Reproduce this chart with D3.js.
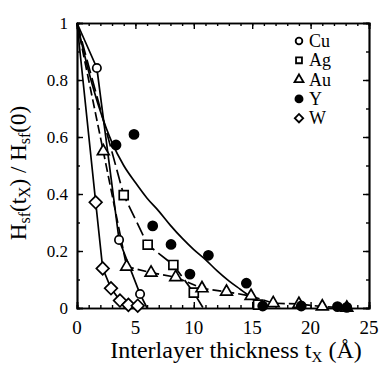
<!DOCTYPE html>
<html>
<head>
<meta charset="utf-8">
<script src="https://cdn.jsdelivr.net/npm/d3@7"></script>
<style>
  body { margin: 0; background: #fff; }
  svg text { font-family: "Liberation Serif", "DejaVu Serif", serif; fill: #000; }
</style>
</head>
<body>
<div id="chart"></div>
<script>
// measured points (thickness in Angstrom, normalised field)
var cuT = [1.7, 3.6, 5.4];
var cuH = [0.842, 0.239, 0.049];
var agT = [4.0, 6.05, 8.25, 10.0, 15.5];
var agH = [0.396, 0.222, 0.151, 0.054, 0.012];
var auT = [2.25, 4.25, 6.34, 8.45, 10.7, 12.8, 14.9, 16.8, 19.0, 21.0, 23.1];
var auH = [0.55, 0.145, 0.124, 0.108, 0.069, 0.057, 0.042, 0.017, 0.014, 0.005, 0.001];
var yT = [3.34, 4.88, 6.48, 8.05, 9.67, 11.25, 14.5, 15.9, 19.2, 22.3, 23.1];
var yH = [0.572, 0.609, 0.288, 0.223, 0.119, 0.185, 0.087, 0.007, 0.007, 0.005, 0.002];
var wT = [1.6, 2.2, 2.91, 3.68, 4.4, 5.2];
var wH = [0.371, 0.139, 0.069, 0.026, 0.011, 0.008];

// guide lines
var cuLineT = [0, 1.7, 3.6, 5.4, 6.0];
var cuLineH = [1, 0.842, 0.239, 0.049, 0];
var agLineT = [0, 4.0, 6.05, 8.25, 10.0, 10.8];
var agLineH = [1, 0.396, 0.222, 0.151, 0.054, 0];
var auLineT = [0, 2.25, 4.25, 6.34, 8.45, 10.7, 12.8, 14.9, 16.8, 19.0, 21.0, 23.1];
var auLineH = [1, 0.55, 0.145, 0.124, 0.108, 0.069, 0.057, 0.042, 0.017, 0.014, 0.005, 0.001];
var wLineT = [0, 1.6, 2.2, 2.91, 3.68, 4.4, 5.2];
var wLineH = [1, 0.371, 0.139, 0.069, 0.026, 0.011, 0.008];
var yFitT = [0, 1, 2, 3, 4, 5, 6, 7, 8, 9, 10, 11, 12, 13, 14, 14.5, 15.5];
var yFitH = [1, 0.83, 0.69, 0.58, 0.5, 0.44, 0.385, 0.34, 0.29, 0.245, 0.205, 0.17, 0.13, 0.095, 0.065, 0.05, 0.02];

var legendNames = ['Cu', 'Ag', 'Au', 'Y', 'W'];
var xTicks = [0, 5, 10, 15, 20, 25];
var yTicks = [0, 0.2, 0.4, 0.6, 0.8, 1];
var yTickLabels = ['0', '0.2', '0.4', '0.6', '0.8', '1'];

var width = 380, height = 365;
var plotLeft = 77, plotRight = 369, plotTop = 23, plotBottom = 308;

var svg = d3.select('#chart').append('svg')
  .attr('width', width)
  .attr('height', height);

var x = d3.scaleLinear().domain([0, 25]).range([plotLeft, plotRight]);
var y = d3.scaleLinear().domain([0, 1]).range([plotBottom, plotTop]);

function zip(a, b) { return a.map(function(v, i) { return [v, b[i]]; }); }

var line = d3.line().x(d => x(d[0])).y(d => y(d[1]));
var curve = d3.line().x(d => x(d[0])).y(d => y(d[1])).curve(d3.curveMonotoneX);

var g = svg.append('g');

// lines
g.append('path').datum(zip(wLineT, wLineH)).attr('d', line)
  .attr('fill', 'none').attr('stroke', '#000').attr('stroke-width', 1.7);
g.append('path').datum(zip(cuLineT, cuLineH)).attr('d', line)
  .attr('fill', 'none').attr('stroke', '#000').attr('stroke-width', 1.7);
g.append('path').datum(zip(auLineT, auLineH)).attr('d', line)
  .attr('fill', 'none').attr('stroke', '#000').attr('stroke-width', 1.7)
  .attr('stroke-dasharray', '9,4');
g.append('path').datum(zip(agLineT, agLineH)).attr('d', line)
  .attr('fill', 'none').attr('stroke', '#000').attr('stroke-width', 1.7)
  .attr('stroke-dasharray', '14,5');
g.append('path').datum(zip(yFitT, yFitH)).attr('d', curve)
  .attr('fill', 'none').attr('stroke', '#000').attr('stroke-width', 1.7);

// axes, ticks pointing inward
function addAxis(axis, transform) {
  svg.append('g').attr('transform', transform).call(axis)
    .call(a => a.select('.domain').attr('stroke-width', 1.7))
    .call(a => a.selectAll('.tick line').attr('stroke-width', 1.4));
}
var xMinor = d3.range(0, 26, 1);
var yMinor = d3.range(0, 1.01, 0.1);
addAxis(d3.axisBottom(x).tickValues(xMinor).tickSize(-3).tickFormat(''), 'translate(0,' + plotBottom + ')');
addAxis(d3.axisBottom(x).tickValues(xTicks).tickSize(-6).tickFormat(''), 'translate(0,' + plotBottom + ')');
addAxis(d3.axisTop(x).tickValues(xMinor).tickSize(-3).tickFormat(''), 'translate(0,' + plotTop + ')');
addAxis(d3.axisTop(x).tickValues(xTicks).tickSize(-6).tickFormat(''), 'translate(0,' + plotTop + ')');
addAxis(d3.axisLeft(y).tickValues(yMinor).tickSize(-3).tickFormat(''), 'translate(' + plotLeft + ',0)');
addAxis(d3.axisLeft(y).tickValues(yTicks).tickSize(-6).tickFormat(''), 'translate(' + plotLeft + ',0)');
addAxis(d3.axisRight(y).tickValues(yMinor).tickSize(-3).tickFormat(''), 'translate(' + plotRight + ',0)');
addAxis(d3.axisRight(y).tickValues(yTicks).tickSize(-6).tickFormat(''), 'translate(' + plotRight + ',0)');

// tick labels
svg.append('g').selectAll('text').data(xTicks).join('text')
  .attr('x', d => x(d)).attr('y', plotBottom + 26)
  .attr('text-anchor', 'middle').style('font-size', '19px')
  .text(d => d);
svg.append('g').selectAll('text').data(yTicks).join('text')
  .attr('x', plotLeft - 9).attr('y', d => y(d) + 6)
  .attr('text-anchor', 'end').style('font-size', '17px')
  .text((d, i) => yTickLabels[i]);

// markers
function symbolFor(s, size) {
  var types = { circle: d3.symbolCircle, square: d3.symbolSquare, triangle: d3.symbolTriangle,
                diamond: d3.symbolSquare, dot: d3.symbolCircle };
  return d3.symbol().type(types[s]).size(size)();
}
var markerSize = { circle: 55, square: 80, triangle: 60, diamond: 80, dot: 65 };
function markers(tv, hv, s, filled) {
  svg.append('g').selectAll('path').data(zip(tv, hv)).join('path')
    .attr('d', symbolFor(s, markerSize[s]))
    .attr('transform', d => 'translate(' + x(d[0]) + ',' + y(d[1]) + ')' + (s === 'diamond' ? ' rotate(45)' : ''))
    .attr('fill', filled ? '#000' : '#fff')
    .attr('stroke', '#000').attr('stroke-width', 1.7);
}
markers(cuT, cuH, 'circle', false);
markers(agT, agH, 'square', false);
markers(auT, auH, 'triangle', false);
markers(yT, yH, 'dot', true);
markers(wT, wH, 'diamond', false);

// legend
var legendSym = ['circle', 'square', 'triangle', 'dot', 'diamond'];
var leg = svg.append('g');
legendNames.forEach(function(name, i) {
  var cy = 41 + i * 19.3;
  leg.append('path').attr('d', symbolFor(legendSym[i], i === 3 ? 40 : 35))
    .attr('transform', 'translate(299,' + cy + ')' + (i === 4 ? ' rotate(45)' : ''))
    .attr('fill', i === 3 ? '#000' : '#fff')
    .attr('stroke', '#000').attr('stroke-width', 1.8);
  leg.append('text').attr('x', 309).attr('y', cy + 6)
    .style('font-size', '18px').text(name);
});

// axis titles
var xt = svg.append('text').attr('x', 236).attr('y', 358)
  .attr('text-anchor', 'middle').style('font-size', '24px');
xt.append('tspan').text('Interlayer thickness t');
xt.append('tspan').attr('baseline-shift', '-4').style('font-size', '15px').text('X');
xt.append('tspan').text(' (Å)');

var yt = svg.append('text').attr('transform', 'translate(26,173) rotate(-90)')
  .attr('text-anchor', 'middle').style('font-size', '23px');
yt.append('tspan').text('H');
yt.append('tspan').attr('baseline-shift', '-4').style('font-size', '16px').text('sf');
yt.append('tspan').text('(t');
yt.append('tspan').attr('baseline-shift', '-4').style('font-size', '16px').text('X');
yt.append('tspan').text(') / H');
yt.append('tspan').attr('baseline-shift', '-4').style('font-size', '16px').text('sf');
yt.append('tspan').text('(0)');
</script>
</body>
</html>
